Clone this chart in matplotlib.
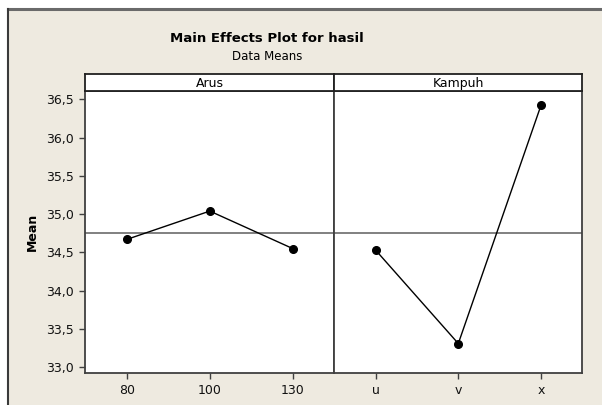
import matplotlib
matplotlib.use("Agg")
import matplotlib.pyplot as plt
from matplotlib.lines import Line2D

# Data
factors = ["Arus", "Kampuh"]
arus_levels = ["80", "100", "130"]
arus_means = [34.67, 35.04, 34.55]
kampuh_levels = ["u", "v", "x"]
kampuh_means = [34.53, 33.31, 36.42]
grand_mean = 34.75
yticks = [33.0, 33.5, 34.0, 34.5, 35.0, 35.5, 36.0, 36.5]

W, H = 602, 405
fig = plt.figure(figsize=(W / 100, H / 100), dpi=100)
fig.patch.set_facecolor("white")
plt.rcParams["font.family"] = ["DejaVu Sans"]

bg = "#EEEAE0"
fig.patches.append(plt.Rectangle((8 / W, 0), 1, 1 - 8 / H, transform=fig.transFigure,
                                 facecolor=bg, edgecolor="none", zorder=-10))
fig.lines.append(Line2D([7.5 / W, 1], [1 - 8.5 / H, 1 - 8.5 / H], transform=fig.transFigure,
                        color="#6a6a6a", lw=2.2, zorder=-5))
fig.lines.append(Line2D([7.5 / W, 7.5 / W], [0, 1 - 8.5 / H], transform=fig.transFigure,
                        color="#3a3a3a", lw=1.5, zorder=-5))

def fx(px):
    return px / W

def fy(py):
    return 1 - py / H

top_px, bot_px = 91.0, 372.5
panels = [(85.3, 334.3), (334.3, 582.3)]
levels = [arus_levels, kampuh_levels]
means = [arus_means, kampuh_means]
spine_col = "#404040"

for i, ((l, r), lev, m, name) in enumerate(zip(panels, levels, means, factors)):
    ax = fig.add_axes([fx(l), fy(bot_px), fx(r) - fx(l), fy(top_px) - fy(bot_px)])
    ax.set_facecolor("white")
    xs = list(range(len(lev)))
    ax.axhline(grand_mean, color="#808080", lw=1.4, zorder=1)
    ax.plot(xs, m, color="black", lw=1.0, marker="o", markersize=5.5, zorder=3)
    ax.set_xlim(-0.5, 2.5)
    ax.set_ylim(32.932, 36.608)
    ax.set_xticks(xs)
    ax.set_xticklabels(lev, fontsize=9)
    ax.set_yticks(yticks)
    if i == 0:
        ax.set_yticklabels([f"{v:.1f}".replace(".", ",") for v in yticks], fontsize=9)
        ax.set_ylabel("Mean", fontsize=9, fontweight="bold", labelpad=5)
    else:
        ax.tick_params(axis="y", left=False, labelleft=False)
    ax.tick_params(axis="both", direction="out", length=4, width=1.0, color=spine_col,
                   pad=4, labelcolor="#111111")
    for s in ax.spines.values():
        s.set_color(spine_col)
        s.set_linewidth(1.3)
    sax = fig.add_axes([fx(l), fy(top_px), fx(r) - fx(l), fy(74) - fy(top_px)])
    sax.set_facecolor("white")
    sax.set_xticks([])
    sax.set_yticks([])
    for s in sax.spines.values():
        s.set_color("#202020")
        s.set_linewidth(1.3)
    sax.text(0.5, 0.45, name, ha="center", va="center", fontsize=9, transform=sax.transAxes)

fig.text(fx(267), fy(38), "Main Effects Plot for hasil", ha="center", va="center",
         fontsize=9.5, fontweight="bold")
fig.text(fx(267), fy(57), "Data Means", ha="center", va="center", fontsize=8.5)

fig.savefig("out.png", dpi=100, facecolor=fig.get_facecolor())
